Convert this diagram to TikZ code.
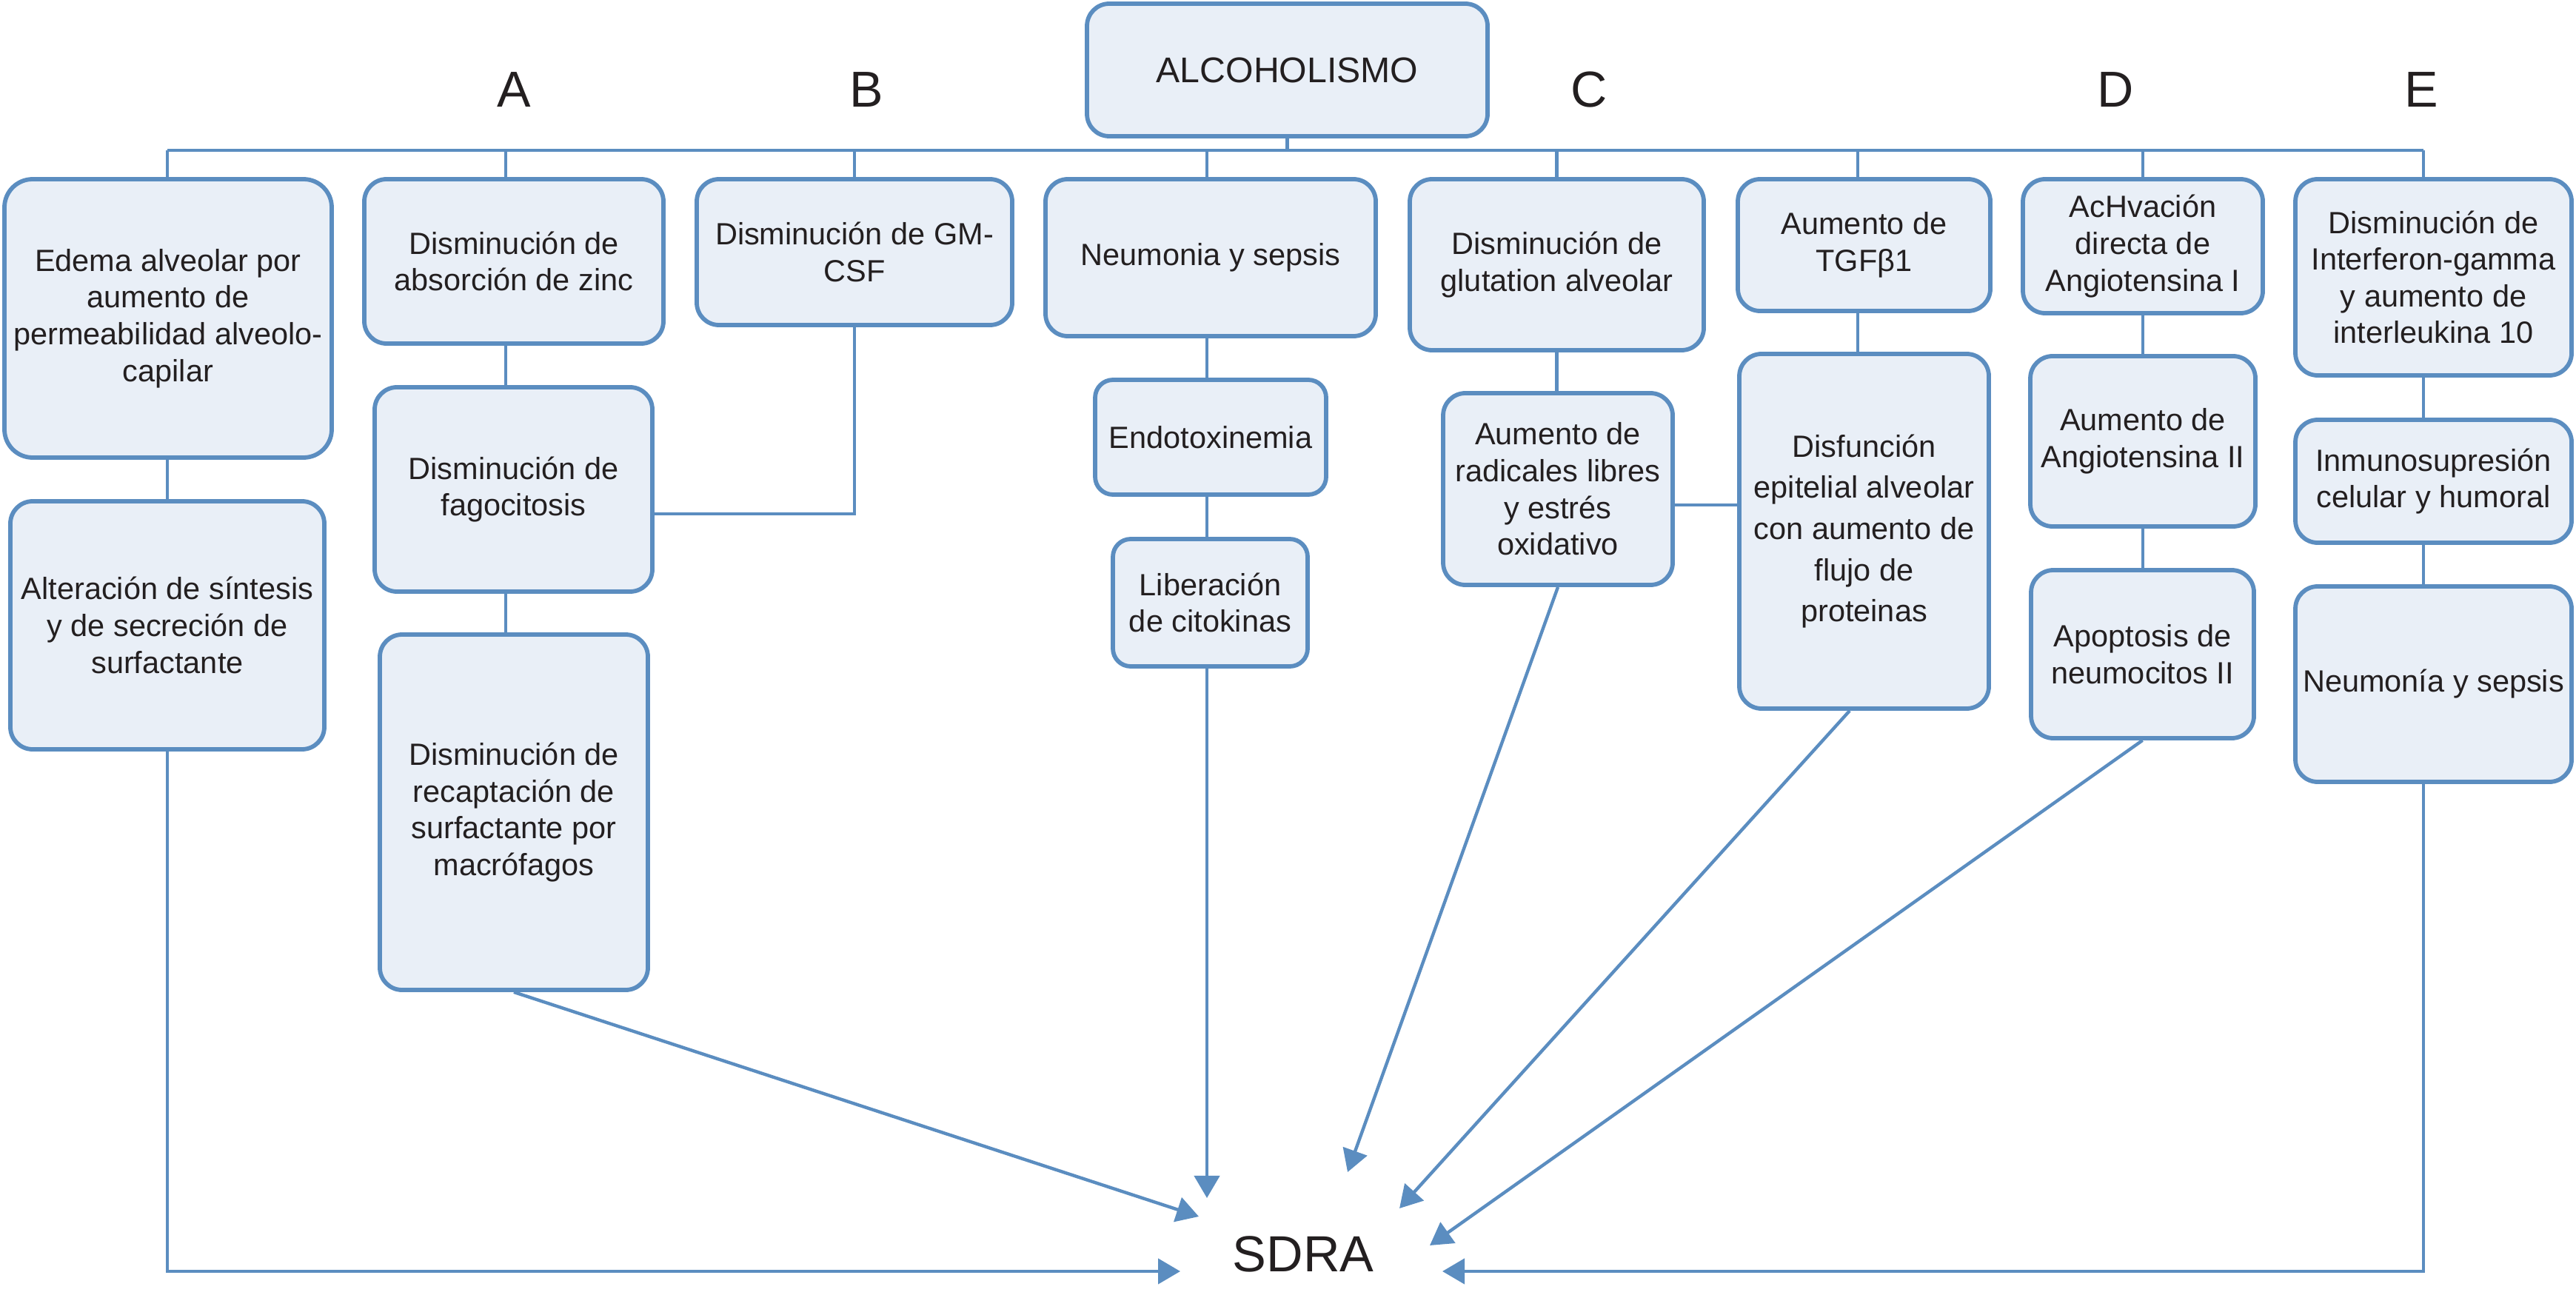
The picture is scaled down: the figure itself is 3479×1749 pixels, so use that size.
\documentclass[tikz,border=0pt]{standalone}
\usepackage{fontspec}
\setmainfont{Liberation Sans}
\usetikzlibrary{arrows.meta}
\definecolor{bordc}{RGB}{91,141,192}
\definecolor{fillc}{RGB}{233,239,247}
\definecolor{txtc}{RGB}{35,31,32}
\begin{document}
\begin{tikzpicture}[x=0.01cm,y=-0.01cm,
  corners/.style args={#1/#2/#3/#4}{at={({(#1+#3)/2},{(#2+#4)/2})},
    minimum width={(#3-#1)*0.01cm}, minimum height={(#4-#2)*0.01cm}},
  box/.style={draw=bordc, fill=fillc, line width=0.058cm, rounded corners=0.3cm,
    inner sep=0pt, align=center, text=txtc, font=\fontsize{11.8pt}{14.1pt}\selectfont},
  conn/.style={draw=bordc, line width=0.044cm},
  arr/.style={conn, -{Triangle[length=0.3cm,width=0.34cm]}},
  letter/.style={anchor=base, text=txtc, inner sep=0pt, font=\fontsize{19.4pt}{23pt}\selectfont}]
\useasboundingbox (0,0) rectangle (3479,1749);

% boxes
\node[box, corners=1468/5/2009/184, font=\fontsize{13.7pt}{16pt}\selectfont] (alc) {ALCOHOLISMO};
\node[box, rounded corners=0.38cm, corners=6/242/448/618] (edema) {Edema alveolar por\\aumento de\\permeabilidad alveolo-\\capilar};
\node[box, corners=14/677/438/1012] (alter) {Alteración de síntesis\\y de secreción de\\surfactante};
\node[box, corners=492/242/896/464] (zinc) {Disminución de\\absorción de zinc};
\node[box, corners=506/523/881/799] (fago) {Disminución de\\fagocitosis};
\node[box, corners=513/857/875/1337] (recap) {Disminución de\\recaptación de\\surfactante por\\macrófagos};
\node[box, corners=941/242/1367/439] (gmcsf) {Disminución de GM-\\CSF};
\node[box, corners=1412/242/1858/454] (neum) {Neumonia y sepsis};
\node[box, rounded corners=0.24cm, corners=1479/513/1791/668] (endo) {Endotoxinemia};
\node[box, rounded corners=0.24cm, corners=1503/728/1766/900] (liber) {Liberación\\de citokinas};
\node[box, corners=1904/242/2301/473] (glut) {Disminución de\\glutation alveolar};
\node[box, corners=1949/531/2259/790] (radic) {Aumento de\\radicales libres\\y estrés\\oxidativo};
\node[box, corners=2347/242/2688/420] (tgf) {Aumento de\\TGFβ1};
\node[box, corners=2349/478/2686/957, font=\fontsize{11.8pt}{15.8pt}\selectfont] (disf) {Disfunción\\epitelial alveolar\\con aumento de\\flujo de\\proteinas};
\node[box, corners=2732/242/3056/423] (ach) {AcHvación\\directa de\\Angiotensina I};
\node[box, corners=2742/481/3046/711] (ang2) {Aumento de\\Angiotensina II};
\node[box, corners=2743/770/3044/997] (apop) {Apoptosis de\\neumocitos II};
\node[box, corners=3100/242/3473/507] (interf) {Disminución de\\Interferon-gamma\\y aumento de\\interleukina 10};
\node[box, corners=3100/567/3473/733] (inmu) {Inmunosupresión\\celular y humoral};
\node[box, corners=3100/792/3473/1056] (neumE) {Neumonía y sepsis};

% letters and result
\node[letter] (lA) at (694,145) {A};
\node[letter] (lB) at (1170,145) {B};
\node[letter] (lC) at (2146,145) {C};
\node[letter] (lD) at (2857,145) {D};
\node[letter] (lE) at (3270,145) {E};
\node[letter, font=\fontsize{19.5pt}{23pt}\selectfont] (sdra) at (1760,1717) {SDRA};

% coordinates
\coordinate (busL) at (226,203);
\coordinate (busR) at (3273,203);
\coordinate (cA) at (683,203);
\coordinate (cN) at (1630,203);
\coordinate (cT) at (2509,203);
\coordinate (cE) at (3273,203);
\coordinate (gmj) at (1155,694);
\coordinate (rdj) at (2300,682);
\coordinate (xD) at (2498,960);
\coordinate (t1) at (1594,1717);
\coordinate (t2) at (1619,1643);
\coordinate (t3) at (1630,1618);
\coordinate (t4) at (1820,1583);
\coordinate (t5) at (1890,1632);
\coordinate (t6) at (1931,1682);
\coordinate (t7) at (1948,1717);

% bus
\draw[conn] (busL) -- (busR);
\draw[conn] (alc.south) -- (alc.south |- busL);
\draw[conn] (busL) -- (busL |- edema.north);
\draw[conn] (cA) -- (cA |- zinc.north);
\draw[conn] (gmcsf.north |- busL) -- (gmcsf.north);
\draw[conn] (cN) -- (cN |- neum.north);
\draw[conn] (glut.north |- busL) -- (glut.north);
\draw[conn] (cT) -- (cT |- tgf.north);
\draw[conn] (ach.north |- busL) -- (ach.north);
\draw[conn] (cE) -- (cE |- interf.north);

% chains
\draw[conn] (busL |- edema.south) -- (busL |- alter.north);
\draw[conn] (cA |- zinc.south) -- (cA |- fago.north);
\draw[conn] (cA |- fago.south) -- (cA |- recap.north);
\draw[conn] (gmcsf.south) -- (gmcsf.south |- gmj) -- (fago.east |- gmj);
\draw[conn] (cN |- neum.south) -- (cN |- endo.north);
\draw[conn] (cN |- endo.south) -- (cN |- liber.north);
\draw[conn] (glut.south) -- (glut.south |- radic.north);
\draw[conn] (radic.east |- rdj) -- (disf.west |- rdj);
\draw[conn] (cT |- tgf.south) -- (cT |- disf.north);
\draw[conn] (ach.south) -- (ach.south |- ang2.north);
\draw[conn] (ang2.south) -- (ang2.south |- apop.north);
\draw[conn] (cE |- interf.south) -- (cE |- inmu.north);
\draw[conn] (cE |- inmu.south) -- (cE |- neumE.north);

% arrows to SDRA
\draw[arr] (busL |- alter.south) |- (t1);
\draw[arr] (recap.south) -- (t2);
\draw[arr] (cN |- liber.south) -- (t3);
\draw[arr] (radic.south) -- (t4);
\draw[arr] (xD |- disf.south) -- (t5);
\draw[arr] (apop.south) -- (t6);
\draw[arr] (cE |- neumE.south) |- (t7);
\end{tikzpicture}
\end{document}
